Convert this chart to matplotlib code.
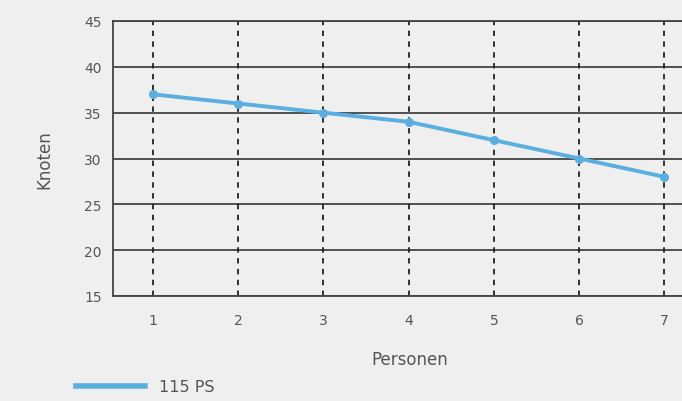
import matplotlib
matplotlib.use("Agg")
import matplotlib.pyplot as plt
from matplotlib.lines import Line2D

personen = [1, 2, 3, 4, 5, 6, 7]
knoten = [37, 36, 35, 34, 32, 30, 28]
yticks = [15, 20, 25, 30, 35, 40, 45]
series_label = "115 PS"

bg = "#efefef"
txt = "#555555"
line_c = "#5aaee0"

fig = plt.figure(figsize=(6.82, 4.02), dpi=100, facecolor=bg)
ax = fig.add_axes([113/682, 1-297/402, 594/682, 275/402])
ax.set_facecolor(bg)

ax.set_xlim(0.53, 7.5)
ax.set_ylim(15, 45)
ax.set_xticks(personen)
ax.set_yticks(yticks)

for y in yticks:
    ax.axhline(y, color="#444444", lw=1.3, zorder=1)
for x in personen:
    ax.axvline(x, color="#222222", lw=1.3, ls=(0, (3, 3)), zorder=1)

ax.plot(personen, knoten, color=line_c, lw=2.8, marker="o", ms=5.5, zorder=3)

for s in ["left", "bottom", "top"]:
    ax.spines[s].set_color("#444444")
    ax.spines[s].set_linewidth(1.3)
ax.spines["right"].set_visible(False)

ax.tick_params(axis="x", length=0, labelsize=10, colors=txt, pad=12)
ax.tick_params(axis="y", length=0, labelsize=10, colors=txt, pad=8)
ax.set_xlabel("Personen", fontsize=12, color=txt, labelpad=17)
ax.set_ylabel("Knoten", fontsize=12, color=txt, labelpad=22)

fig.legend(handles=[Line2D([], [], color=line_c, lw=4)], labels=[series_label],
           loc="center left", bbox_to_anchor=(62/682, 1-388/402), frameon=False,
           handlelength=4.3, handletextpad=0.9, fontsize=11.5, labelcolor=txt)

fig.savefig("out.png", dpi=100, facecolor=bg)
